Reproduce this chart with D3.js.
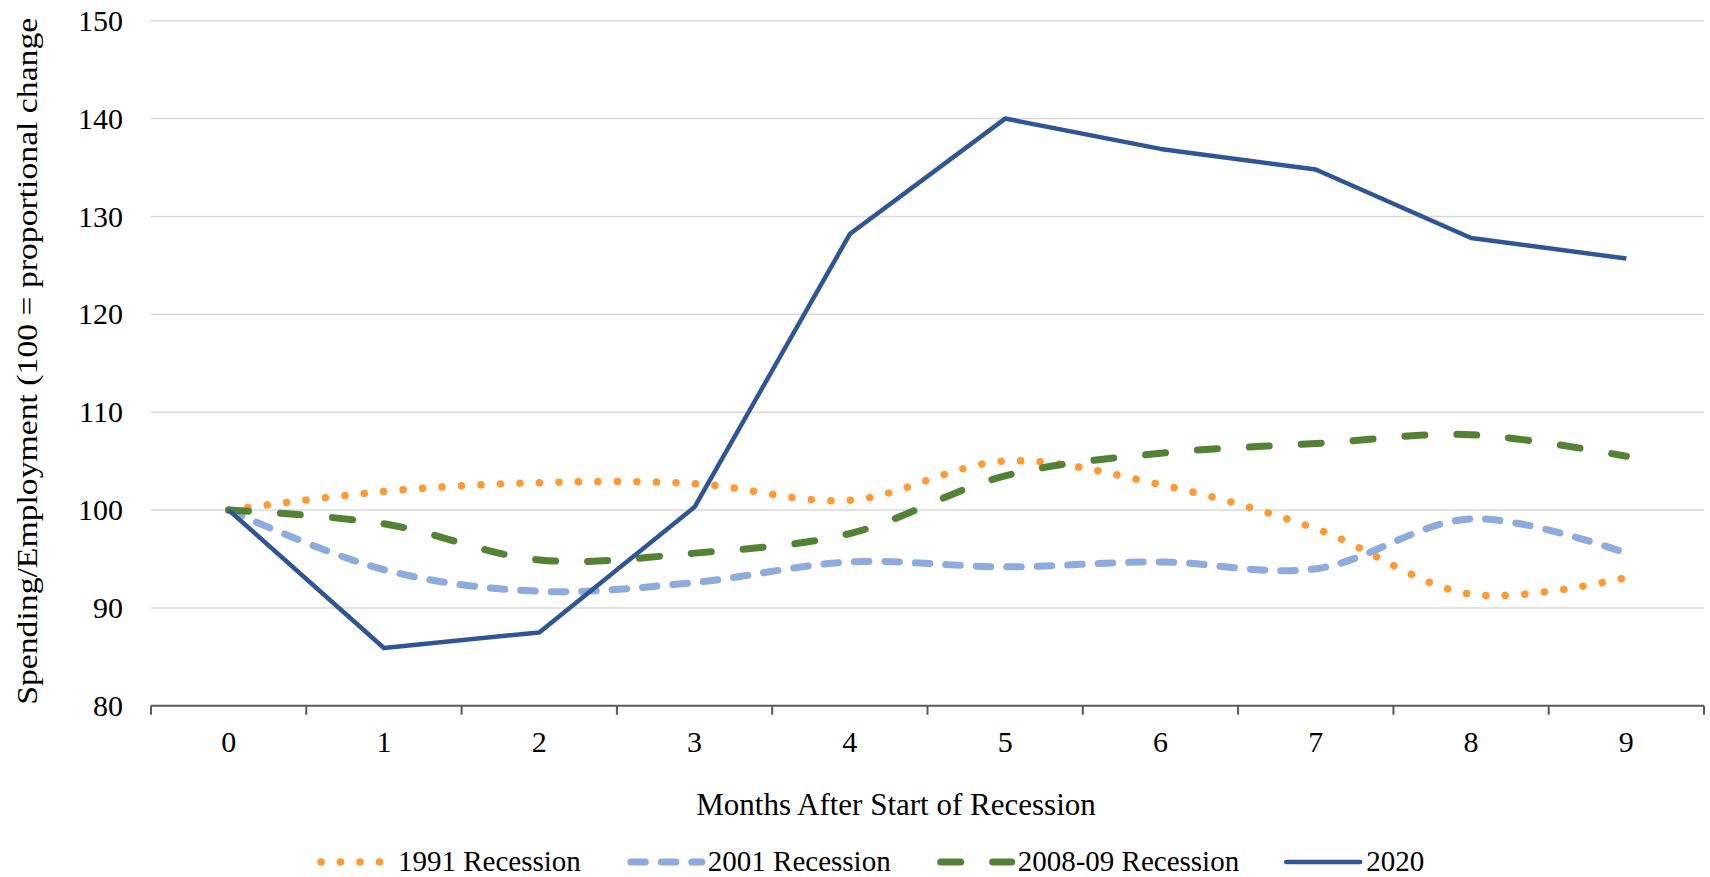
<!DOCTYPE html>
<html>
<head>
<meta charset="utf-8">
<script src="https://cdn.jsdelivr.net/npm/d3@7/dist/d3.min.js"></script>
<style>
  html, body { margin: 0; padding: 0; background: #ffffff; }
  svg { display: block; }
  text { font-family: "Liberation Serif", "Times New Roman", serif; fill: #000; }
</style>
</head>
<body>
<svg id="chart" width="1710" height="877"></svg>
<script>
const months = ["0","1","2","3","4","5","6","7","8","9"];
const yTicks = [80, 90, 100, 110, 120, 130, 140, 150];
const rec1991 = [100, 101.9, 102.8, 102.7, 101.0, 105.0, 102.6, 98.1, 91.4, 93.1];
const rec2001 = [100, 93.9, 91.7, 92.6, 94.7, 94.2, 94.7, 94.0, 99.1, 95.6];
const rec2008 = [100, 98.6, 94.9, 95.6, 97.6, 103.5, 105.8, 106.8, 107.7, 105.5];
const y2020  = [100, 85.9, 87.5, 100.3, 128.2, 140.0, 136.9, 134.8, 127.8, 125.7];
const seriesNames = ["1991 Recession", "2001 Recession", "2008-09 Recession", "2020"];

(function () {
const svg = d3.select("#chart");
const pLeft = 151, pRight = 1704, pTop = 20.7, pBottom = 705.8;

const x = d3.scaleBand().domain(months).range([pLeft, pRight]);
const y = d3.scaleLinear().domain([80, 150]).range([pBottom, pTop]);

// gridlines
svg.append("g").selectAll("line")
  .data(yTicks.filter(d => d !== 80))
  .join("line")
  .attr("x1", pLeft).attr("x2", pRight)
  .attr("y1", d => y(d)).attr("y2", d => y(d))
  .attr("stroke", "#d9d9d9").attr("stroke-width", 1.5);

// y labels
const yAxis = d3.axisLeft(y).tickValues(yTicks).tickSize(0).tickPadding(28);
const gy = svg.append("g").attr("transform", `translate(${pLeft},0)`).call(yAxis);
gy.select(".domain").remove();
gy.selectAll("text").style("font-size", "30px").style("font-family", "Liberation Serif, serif").attr("fill", "#000");

// x axis
const xAxis = d3.axisBottom(x).tickSize(0).tickPadding(25);
const gx = svg.append("g").attr("transform", `translate(0,${pBottom})`).call(xAxis);
gx.select(".domain").attr("stroke", "#595959").attr("stroke-width", 2).attr("d", `M${pLeft},0H${pRight}`);
gx.selectAll("text").style("font-size", "30px").style("font-family", "Liberation Serif, serif").attr("fill", "#000");
const bounds = months.map(m => x(m)).concat([x.range()[1]]);
svg.append("g").selectAll("line").data(bounds).join("line")
  .attr("x1", d => d).attr("x2", d => d)
  .attr("y1", pBottom).attr("y2", pBottom + 9)
  .attr("stroke", "#595959").attr("stroke-width", 2);

// axis titles
svg.append("text")
  .attr("x", 896).attr("y", 815)
  .attr("text-anchor", "middle")
  .style("font-size", "31px")
  .text("Months After Start of Recession");

svg.append("text")
  .attr("transform", `translate(37,${(pTop + pBottom) / 2 - 2}) rotate(-90)`)
  .attr("text-anchor", "middle")
  .attr("textLength", 687)
  .attr("lengthAdjust", "spacingAndGlyphs")
  .style("font-size", "30px")
  .text("Spending/Employment (100 = proportional change");

// lines
const cx = m => x(m) + x.bandwidth() / 2;
const styles = [
  { data: rec1991, color: "#ff9a33", width: 7.5, dash: "0.01 19.5", curve: d3.curveCatmullRom.alpha(0.5) },
  { data: rec2001, color: "#8faadc", width: 7, dash: "14.5 16", curve: d3.curveCatmullRom.alpha(0.5) },
  { data: rec2008, color: "#548235", width: 7, dash: "20 32", curve: d3.curveCatmullRom.alpha(0.5) },
  { data: y2020, color: "#2f5597", width: 4.5, dash: null, curve: d3.curveLinear }
];

styles.forEach(s => {
  const line = d3.line().x((d, i) => cx(months[i])).y(d => y(d)).curve(s.curve);
  svg.append("path")
    .datum(s.data)
    .attr("d", line)
    .attr("fill", "none")
    .attr("stroke", s.color)
    .attr("stroke-width", s.width)
    .attr("stroke-linecap", s.dash ? "round" : "butt")
    .attr("stroke-linejoin", "round")
    .attr("stroke-dasharray", s.dash);
});

// legend
const lg = svg.append("g");
let lx = 318;
const ly = 862;
styles.forEach((s, i) => {
  lg.append("line")
    .attr("x1", lx + (s.dash ? 3 : 0)).attr("x2", lx + 74)
    .attr("y1", ly).attr("y2", ly)
    .attr("stroke", s.color).attr("stroke-width", s.width)
    .attr("stroke-linecap", "round")
    .attr("stroke-dasharray", s.dash);
  const t = lg.append("text")
    .attr("x", lx + 80).attr("y", ly + 9)
    .style("font-size", "29px")
    .text(seriesNames[i]);
  lx = lx + 80 + t.node().getComputedTextLength() + 47;
});
})();
</script>
</body>
</html>
